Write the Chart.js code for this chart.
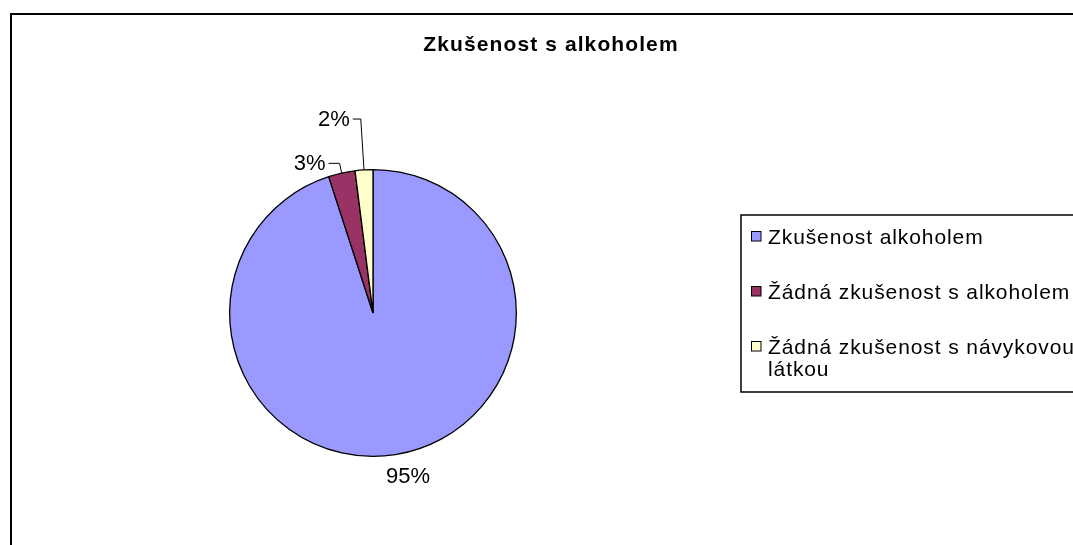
<!DOCTYPE html>
<html>
<head>
<meta charset="utf-8">
<script src="https://cdn.jsdelivr.net/npm/chart.js@4"></script>
<style>
  html, body { margin: 0; padding: 0; background: #fff; overflow: hidden; }
  canvas { display: block; }
</style>
</head>
<body>
<canvas id="pieChart" width="1073" height="545"></canvas>
<script>
'use strict';

// data
var chartTitle = 'Zkušenost s alkoholem';
var categories = [
  'Zkušenost alkoholem',
  'Žádná zkušenost s alkoholem',
  'Žádná zkušenost s návykovou látkou'
];
var shares = [95, 3, 2];
var sliceColors = ['#9999FF', '#993366', '#FFFFCC'];

// label placement: distance beyond the rim, leader length, nudge
var labelDist = [23, 10, 51];
var leaderLen = [0, 11, 8];
var labelNudgeX = [9, 0, 0];

var FONT = '"Liberation Sans", Arial, sans-serif';

function wrapText(ctx, text, maxW, spacing) {
  var words = text.split(' '), lines = [], line = '';
  words.forEach(function (w) {
    var test = line ? line + ' ' + w : w;
    var width = ctx.measureText(test).width + spacing * test.length;
    if (width > maxW && line) {
      lines.push(line);
      line = w;
    } else {
      line = test;
    }
  });
  if (line) lines.push(line);
  return lines;
}

var excelDecor = {
  id: 'excelDecor',
  afterDraw: function (chart) {
    var ctx = chart.ctx;
    var ds = chart.data.datasets[0];
    var total = ds.data.reduce(function (a, b) { return a + b; }, 0);
    ctx.save();

    // outer chart frame (continues past the right/bottom edges)
    ctx.strokeStyle = '#000';
    ctx.lineWidth = 2;
    ctx.beginPath();
    ctx.moveTo(11, chart.height + 5);
    ctx.lineTo(11, 14);
    ctx.lineTo(chart.width + 5, 14);
    ctx.stroke();

    // title
    ctx.fillStyle = '#000';
    ctx.font = 'bold 21px ' + FONT;
    ctx.letterSpacing = '1.1px';
    ctx.textAlign = 'center';
    ctx.textBaseline = 'alphabetic';
    ctx.fillText(chartTitle, 551, 51);

    // legend
    ctx.lineWidth = 1.5;
    ctx.strokeRect(741, 215, 420, 177);
    ctx.font = '21px ' + FONT;
    ctx.textAlign = 'left';
    var rowY = [244, 299, 354];
    chart.data.labels.forEach(function (lab, i) {
      ctx.letterSpacing = '0px';
      var lines = wrapText(ctx, lab, 312, 0.9);
      ctx.letterSpacing = '0.9px';
      ctx.fillStyle = ds.backgroundColor[i];
      ctx.fillRect(751.5, rowY[i] - 12.5, 9.5, 9.5);
      ctx.lineWidth = 1;
      ctx.strokeRect(751.5, rowY[i] - 12.5, 9.5, 9.5);
      ctx.fillStyle = '#000';
      lines.forEach(function (ln, k) {
        ctx.fillText(ln, 768, rowY[i] + k * 22);
      });
    });

    // percentage labels with leader lines
    ctx.letterSpacing = '0px';
    ctx.font = '22px ' + FONT;
    ctx.textBaseline = 'middle';
    ctx.lineWidth = 1;
    var meta = chart.getDatasetMeta(0);
    meta.data.forEach(function (arc, i) {
      var p = arc.getProps(['x', 'y', 'startAngle', 'endAngle', 'outerRadius'], true);
      var mid = (p.startAngle + p.endAngle) / 2;
      var rim = { x: p.x + p.outerRadius * Math.cos(mid), y: p.y + p.outerRadius * Math.sin(mid) };
      var r2 = p.outerRadius + labelDist[i];
      var ax = p.x + r2 * Math.cos(mid), ay = p.y + r2 * Math.sin(mid);
      var txt = Math.round(ds.data[i] / total * 100) + '%';
      if (leaderLen[i] > 0) {
        ctx.beginPath();
        ctx.moveTo(rim.x, rim.y);
        ctx.lineTo(ax, ay);
        ctx.lineTo(ax - leaderLen[i], ay);
        ctx.stroke();
        ctx.textAlign = 'right';
        ctx.fillText(txt, ax - leaderLen[i] - 3, ay + 1);
      } else {
        ctx.textAlign = 'center';
        ctx.fillText(txt, ax + labelNudgeX[i], ay);
      }
    });

    ctx.restore();
  }
};

var pieCanvas = document.getElementById('pieChart').getContext('2d');
var pieChart = new Chart(pieCanvas, {
  type: 'pie',
  data: {
    labels: categories,
    datasets: [{
      data: shares,
      backgroundColor: sliceColors,
      borderColor: '#000',
      borderWidth: 1.3
    }]
  },
  options: {
    responsive: false,
    animation: false,
    layout: {
      padding: { left: 229, right: 556, top: 169, bottom: 88 }
    },
    plugins: {
      legend: { display: false },
      title: { display: false },
      tooltip: { enabled: false }
    }
  },
  plugins: [excelDecor]
});
</script>
</body>
</html>
